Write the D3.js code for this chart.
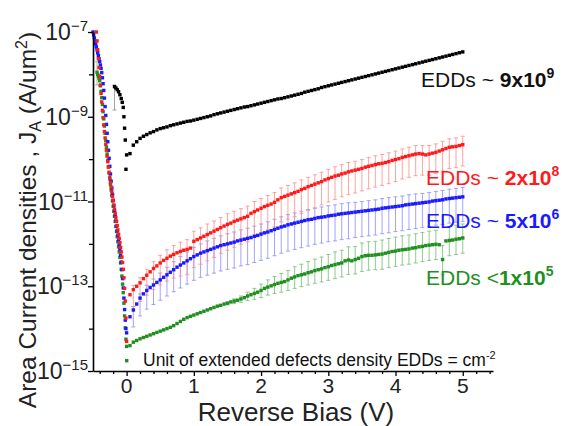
<!DOCTYPE html>
<html><head><meta charset="utf-8">
<script src="https://cdn.jsdelivr.net/npm/d3@7"></script>
<style>
body{margin:0;background:#fff}
svg{display:block}
text{font-family:Arial,"Liberation Sans",sans-serif}
</style>
</head><body>
<svg id="c" width="566" height="426"></svg>
<script>
// ---------------- DATA (log10 of J_A in A/um^2) ----------------
const xTicksMajor = [0, 1, 2, 3, 4, 5];
const xTicksMinor = [-0.4, -0.2, 0.2, 0.4, 0.6, 0.8, 1.2, 1.4, 1.6, 1.8, 2.2, 2.4, 2.6, 2.8, 3.2, 3.4, 3.6, 3.8, 4.2, 4.4, 4.6, 4.8, 5.2, 5.4];
const yTickExpLabeled = [-7, -9, -11, -13, -15];
const yTickExpMinor = [-8, -10, -12, -14];

// reverse bias, positive sweep (V)
const biasPos = [0.05,0.1,0.15,0.2,0.25,0.3,0.35,0.4,0.45,0.5,
 0.55,0.6,0.65,0.7,0.75,0.8,0.85,0.9,0.95,1.0,
 1.05,1.1,1.15,1.2,1.25,1.3,1.35,1.4,1.45,1.5,
 1.55,1.6,1.65,1.7,1.75,1.8,1.85,1.9,1.95,2.0,
 2.05,2.1,2.15,2.2,2.25,2.3,2.35,2.4,2.45,2.5,
 2.55,2.6,2.65,2.7,2.75,2.8,2.85,2.9,2.95,3.0,
 3.05,3.1,3.15,3.2,3.25,3.3,3.35,3.4,3.45,3.5,
 3.55,3.6,3.65,3.7,3.75,3.8,3.85,3.9,3.95,4.0,
 4.05,4.1,4.15,4.2,4.25,4.3,4.35,4.4,4.45,4.5,
 4.55,4.6,4.65,4.7,4.75,4.8,4.85,4.9,4.95,5.0];

// negative (forward) side of the sweep (V)
const biasNeg = [-0.5,-0.49,-0.48,-0.47,-0.46,-0.45,-0.44,-0.43,-0.42,-0.41,
 -0.4,-0.39,-0.38,-0.37,-0.36,-0.35,-0.34,-0.33,-0.32,-0.31,
 -0.3,-0.29,-0.28,-0.27,-0.26,-0.25,-0.24,-0.23,-0.22,-0.21,
 -0.2,-0.19,-0.18,-0.17,-0.16,-0.15,-0.14,-0.13,-0.12,-0.11,
 -0.1,-0.09,-0.08,-0.07,-0.06,-0.05,-0.04,-0.03,-0.02,-0.01,0.0];

// EDDs ~ 9x10^9 (black)
const blackPos = [-9.87,-9.67,-9.59,-9.51,-9.46,-9.42,-9.38,-9.35,-9.31,-9.28,
 -9.26,-9.24,-9.21,-9.19,-9.17,-9.15,-9.13,-9.11,-9.10,-9.08,
 -9.06,-9.04,-9.02,-9.00,-8.98,-8.95,-8.93,-8.91,-8.89,-8.87,
 -8.85,-8.83,-8.81,-8.79,-8.77,-8.76,-8.74,-8.72,-8.70,-8.68,
 -8.66,-8.64,-8.62,-8.60,-8.58,-8.57,-8.55,-8.53,-8.51,-8.49,
 -8.47,-8.45,-8.42,-8.40,-8.38,-8.36,-8.34,-8.31,-8.29,-8.27,
 -8.25,-8.23,-8.21,-8.19,-8.17,-8.15,-8.13,-8.11,-8.09,-8.07,
 -8.05,-8.03,-8.01,-7.99,-7.97,-7.95,-7.93,-7.91,-7.89,-7.87,
 -7.85,-7.83,-7.81,-7.79,-7.77,-7.75,-7.73,-7.71,-7.69,-7.67,
 -7.65,-7.63,-7.61,-7.59,-7.57,-7.55,-7.53,-7.51,-7.49,-7.47];
const blackNegBias = [-0.18,-0.16,-0.14,-0.12,-0.10,-0.08,-0.065,-0.05,-0.04,-0.03,-0.02,-0.01,0.0];
const blackNeg = [-8.29,-8.32,-8.36,-8.41,-8.48,-8.57,-8.66,-8.78,-9.0,-9.27,-9.55,-10.24,-9.9];

// EDDs ~ 2x10^8 (red)
const redPos = [-13.20,-13.08,-13.00,-12.92,-12.82,-12.74,-12.66,-12.58,-12.52,-12.45,
 -12.39,-12.34,-12.29,-12.25,-12.21,-12.18,-12.15,-12.13,-12.10,-11.94,
 -11.90,-11.86,-11.82,-11.78,-11.74,-11.70,-11.66,-11.62,-11.58,-11.54,
 -11.51,-11.47,-11.44,-11.41,-11.38,-11.35,-11.28,-11.24,-11.20,-11.16,
 -11.12,-11.09,-11.06,-11.02,-10.96,-10.91,-10.88,-10.85,-10.82,-10.79,
 -10.76,-10.72,-10.69,-10.65,-10.62,-10.59,-10.56,-10.53,-10.49,-10.46,
 -10.43,-10.40,-10.38,-10.35,-10.33,-10.30,-10.28,-10.26,-10.24,-10.22,
 -10.19,-10.17,-10.15,-10.13,-10.11,-10.10,-10.08,-10.06,-10.03,-10.01,
 -9.99,-9.96,-9.94,-9.92,-9.90,-9.88,-9.87,-9.88,-9.90,-9.88,
 -9.86,-9.84,-9.81,-9.78,-9.75,-9.72,-9.71,-9.70,-9.68,-9.66];
const redNeg = [null,null,null,null,null,-7.00,-7.21,-7.42,-7.63,-7.84,
 -8.05,-8.25,-8.45,-8.65,-8.85,-9.02,-9.19,-9.35,-9.50,-9.65,
 -9.79,-9.93,-10.06,-10.19,-10.31,-10.43,-10.55,-10.66,-10.77,-10.88,
 -10.98,-11.08,-11.18,-11.28,-11.38,-11.47,-11.57,-11.67,-11.77,-11.87,
 -11.97,-12.08,-12.19,-12.31,-12.44,-12.60,-12.80,-13.05,-13.35,-13.75,-14.30];

// EDDs ~ 5x10^6 (blue)
const bluePos = [-13.72,-13.56,-13.42,-13.28,-13.18,-13.10,-13.03,-12.97,-12.91,-12.85,
 -12.79,-12.73,-12.67,-12.61,-12.55,-12.50,-12.45,-12.40,-12.35,-12.30,
 -12.26,-12.22,-12.19,-12.16,-12.13,-12.10,-12.07,-12.04,-12.02,-12.00,
 -11.98,-11.96,-11.93,-11.91,-11.89,-11.87,-11.85,-11.82,-11.80,-11.77,
 -11.74,-11.72,-11.69,-11.66,-11.63,-11.60,-11.58,-11.55,-11.53,-11.51,
 -11.49,-11.47,-11.45,-11.43,-11.42,-11.40,-11.38,-11.37,-11.36,-11.34,
 -11.33,-11.32,-11.30,-11.29,-11.28,-11.27,-11.26,-11.25,-11.24,-11.23,
 -11.22,-11.21,-11.20,-11.19,-11.18,-11.16,-11.15,-11.14,-11.13,-11.12,
 -11.11,-11.10,-11.08,-11.07,-11.06,-11.05,-11.04,-11.03,-11.02,-11.01,
 -10.99,-10.98,-10.97,-10.96,-10.94,-10.93,-10.92,-10.91,-10.90,-10.89];
const blueNeg = [-7.00,-7.07,-7.14,-7.21,-7.28,-7.35,-7.42,-7.49,-7.56,-7.63,
 -7.70,-7.78,-7.86,-7.96,-8.08,-8.22,-8.38,-8.56,-8.76,-8.97,
 -9.18,-9.39,-9.59,-9.79,-9.98,-10.17,-10.35,-10.52,-10.68,-10.83,
 -10.97,-11.10,-11.22,-11.34,-11.46,-11.58,-11.69,-11.80,-11.91,-12.02,
 -12.13,-12.27,-12.43,-12.61,-12.82,-13.04,-13.28,-13.55,-13.80,-14.00,-14.10];

// EDDs < 1x10^5 (green)
const greenPos = [-14.40,-14.32,-14.28,-14.24,-14.21,-14.18,-14.15,-14.12,-14.09,-14.06,
 -14.03,-14.00,-13.97,-13.93,-13.88,-13.83,-13.78,-13.74,-13.71,-13.68,
 -13.65,-13.62,-13.59,-13.56,-13.53,-13.50,-13.47,-13.45,-13.42,-13.40,
 -13.37,-13.35,-13.33,-13.30,-13.27,-13.23,-13.20,-13.17,-13.14,-13.10,
 -13.05,-13.02,-12.99,-12.96,-12.93,-12.91,-12.89,-12.85,-12.81,-12.78,
 -12.75,-12.73,-12.71,-12.68,-12.66,-12.63,-12.61,-12.59,-12.56,-12.54,
 -12.51,-12.49,-12.47,-12.45,-12.40,-12.38,-12.40,-12.37,-12.34,-12.30,
 -12.28,-12.27,-12.27,-12.26,-12.25,-12.24,-12.22,-12.20,-12.18,-12.17,
 -12.15,-12.14,-12.13,-12.12,-12.10,-12.09,-12.07,-12.06,-12.04,-12.03,
 -12.02,-12.01,-12.02,-12.37,-11.93,-11.92,-11.91,-11.89,-11.88,-11.86];
const greenNeg = [null,null,null,null,null,null,-7.95,-8.00,-8.04,-8.09,
 -8.15,-8.27,-8.40,-8.55,-8.71,-8.88,-9.05,-9.22,-9.39,-9.56,
 -9.72,-9.88,-10.03,-10.18,-10.33,-10.47,-10.60,-10.73,-10.86,-10.99,
 -11.11,-11.23,-11.35,-11.47,-11.59,-11.71,-11.83,-11.95,-12.07,-12.19,
 -12.32,-12.45,-12.60,-12.76,-12.95,-13.15,-13.40,-13.70,-13.98,-14.25,-14.42];

// error bars (in decades above / below the point), at every 0.1 V
const errBias = [0.1,0.2,0.3,0.4,0.5,0.6,0.7,0.8,0.9,
 1.0,1.1,1.2,1.3,1.4,1.5,1.6,1.7,1.8,1.9,
 2.0,2.1,2.2,2.3,2.4,2.5,2.6,2.7,2.8,2.9,
 3.0,3.1,3.2,3.3,3.4,3.5,3.6,3.7,3.8,3.9,
 4.0,4.1,4.2,4.3,4.4,4.5,4.6,4.7,4.8,4.9,5.0];
const redErrUp = [0.10,0.12,0.14,0.16,0.18,0.20,0.21,0.22,0.23,
 0.24,0.24,0.25,0.24,0.24,0.25,0.24,0.24,0.24,0.24,
 0.23,0.23,0.23,0.23,0.23,0.23,0.23,0.22,0.22,0.22,
 0.22,0.22,0.22,0.22,0.21,0.21,0.21,0.21,0.21,0.21,
 0.20,0.20,0.20,0.20,0.20,0.20,0.20,0.20,0.20,0.20,0.20];
const redErrDn = [0.40,0.44,0.47,0.50,0.52,0.54,0.56,0.58,0.60,
 0.62,0.62,0.62,0.62,0.61,0.61,0.61,0.60,0.60,0.60,
 0.58,0.58,0.58,0.57,0.57,0.57,0.56,0.56,0.56,0.55,
 0.55,0.55,0.54,0.54,0.54,0.53,0.53,0.53,0.52,0.52,
 0.52,0.51,0.51,0.51,0.50,0.50,0.50,0.50,0.50,0.50,0.50];
const blueErrUp = [0.08,0.10,0.12,0.14,0.16,0.18,0.19,0.20,0.21,
 0.22,0.22,0.23,0.23,0.23,0.24,0.24,0.24,0.24,0.24,
 0.24,0.24,0.24,0.24,0.24,0.24,0.24,0.24,0.24,0.24,
 0.24,0.24,0.24,0.24,0.23,0.23,0.23,0.23,0.23,0.23,
 0.23,0.23,0.23,0.23,0.22,0.22,0.22,0.22,0.22,0.22,0.22];
const blueErrDn = [0.40,0.42,0.44,0.46,0.48,0.50,0.52,0.54,0.55,
 0.56,0.57,0.58,0.59,0.60,0.60,0.61,0.61,0.62,0.62,
 0.62,0.62,0.62,0.62,0.62,0.62,0.62,0.62,0.61,0.61,
 0.61,0.61,0.61,0.61,0.60,0.60,0.60,0.60,0.60,0.60,
 0.59,0.59,0.59,0.59,0.58,0.58,0.58,0.58,0.58,0.58,0.58];
const greenErrUp = [0,0,0,0,0,0,0,0,0,
 0,0,0,0,0,0.03,0.05,0.07,0.09,0.12,
 0.15,0.17,0.19,0.21,0.22,0.24,0.25,0.26,0.27,0.28,
 0.29,0.30,0.30,0.31,0.31,0.32,0.32,0.32,0.33,0.33,
 0.33,0.33,0.33,0.33,0.33,0.33,0.33,0.33,0.33,0.33,0.33];
const greenErrDn = [0,0,0,0,0,0,0,0,0,
 0,0,0,0,0,0.04,0.06,0.08,0.11,0.14,
 0.17,0.19,0.21,0.23,0.25,0.27,0.28,0.29,0.30,0.31,
 0.32,0.33,0.33,0.34,0.34,0.35,0.35,0.35,0.36,0.36,
 0.36,0.36,0.36,0.36,0.36,0.36,0.36,0.36,0.36,0.36,0.36];
// isolated error bars on the negative side
const extraBarBias = [-0.18, -0.44];
const extraBarJ = [-8.29, -7.95];
const extraBarUp = [0.04, 0.25];
const extraBarDn = [0.55, 0.30];
const extraBarColor = ["#8a8a8a", "#7cb87c"];

// ---------------- CHART ----------------
const svg = d3.select("#c");
const x = d3.scaleLinear().domain([-0.5, 5.45]).range([93, 493]);
const y = d3.scaleLog().domain([1e-15, 1e-7]).range([371, 32]);
const J = v => Math.pow(10, v);

const series = [
  {name:"green", pos:greenPos, neg:greenNeg, up:greenErrUp, dn:greenErrDn, col:"#1f8f1f", bar:"#72bd72"},
  {name:"blue",  pos:bluePos,  neg:blueNeg,  up:blueErrUp,  dn:blueErrDn,  col:"#1a1aff", bar:"#8a8aff"},
  {name:"red",   pos:redPos,   neg:redNeg,   up:redErrUp,   dn:redErrDn,   col:"#ff1a1a", bar:"#ff8a8a"}
];

// error bars
const gBars = svg.append("g");
function drawBar(g, bx, v, up, dn, col) {
  if (!(up > 0 || dn > 0)) return;
  const X = x(bx), y1 = y(J(v + up)), y2 = y(J(v - dn));
  g.append("line").attr("x1", X).attr("x2", X).attr("y1", y1).attr("y2", y2)
    .attr("stroke", col).attr("stroke-width", 0.8);
  [y1, y2].forEach(yy => g.append("line").attr("x1", X - 2).attr("x2", X + 2)
    .attr("y1", yy).attr("y2", yy).attr("stroke", col).attr("stroke-width", 0.8));
}
series.forEach(s => {
  errBias.forEach((b, i) => {
    const k = biasPos.findIndex(p => Math.abs(p - b) < 1e-6);
    drawBar(gBars, b, s.pos[k], s.up[i], s.dn[i], s.bar);
  });
});
extraBarBias.forEach((b, i) => drawBar(gBars, b, extraBarJ[i], extraBarUp[i], extraBarDn[i], extraBarColor[i]));

// markers
const ms = 3.4;
function drawPts(xs, vs, col) {
  const d = xs.map((b, i) => [b, vs[i]]).filter(p => p[1] !== null && p[1] !== undefined);
  svg.append("g").selectAll("rect").data(d).join("rect")
    .attr("x", p => x(p[0]) - ms / 2).attr("y", p => y(J(p[1])) - ms / 2)
    .attr("width", ms).attr("height", ms).attr("fill", col);
}
series.forEach(s => { drawPts(biasNeg, s.neg, s.col); drawPts(biasPos, s.pos, s.col); });
drawPts(blackNegBias, blackNeg, "#000");
drawPts(biasPos, blackPos, "#000");

// axes
const xAxisG = svg.append("g").attr("transform", "translate(0,371)");
xAxisG.call(d3.axisBottom(x).tickValues(xTicksMajor).tickSize(5).tickSizeOuter(0).tickFormat(""));
const xMin = svg.append("g").attr("transform", "translate(0,371)");
xMin.call(d3.axisBottom(x).tickValues(xTicksMinor).tickSize(3).tickSizeOuter(0).tickFormat(""));
xMin.select(".domain").remove();
const yAxisG = svg.append("g").attr("transform", "translate(93,0)");
yAxisG.call(d3.axisLeft(y).tickValues(yTickExpLabeled.map(J)).tickSize(5).tickSizeOuter(0).tickFormat(""));
const yMin = svg.append("g").attr("transform", "translate(93,0)");
yMin.call(d3.axisLeft(y).tickValues(yTickExpMinor.map(J)).tickSize(4).tickSizeOuter(0).tickFormat(""));
yMin.select(".domain").remove();
svg.selectAll(".domain").attr("stroke-width", 1.6);
svg.selectAll(".tick line").attr("stroke-width", 1.3);

// tick labels
xTicksMajor.forEach(t => {
  svg.append("text").attr("x", x(t)).attr("y", 392.5).attr("text-anchor", "middle")
    .attr("font-size", 21).attr("fill", "#222").text(t);
});
yTickExpLabeled.forEach(e => {
  const t = svg.append("text").attr("x", 88).attr("y", y(J(e)) + 8).attr("text-anchor", "end")
    .attr("font-size", 23).attr("fill", "#222");
  t.append("tspan").text("10");
  t.append("tspan").attr("dy", -9).attr("font-size", 15).text("\u2212" + (-e));
});

// axis titles
svg.append("text").attr("x", 296).attr("y", 420.5).attr("text-anchor", "middle")
  .attr("font-size", 26).attr("fill", "#222").text("Reverse Bias (V)");
const yt = svg.append("text").attr("transform", "translate(36,220) rotate(-90)")
  .attr("text-anchor", "middle").attr("font-size", 24.5).attr("fill", "#222");
yt.append("tspan").text("Area Current densities , J");
yt.append("tspan").attr("dy", 5).attr("font-size", 16).text("A");
yt.append("tspan").attr("dy", -5).text(" (A/um");
yt.append("tspan").attr("dy", -9).attr("font-size", 16).text("2");
yt.append("tspan").attr("dy", 9).text(")");

// series labels
function label(xp, yp, col, pre, bold, sup) {
  const t = svg.append("text").attr("x", xp).attr("y", yp).attr("font-size", 21).attr("fill", col);
  t.append("tspan").text(pre);
  t.append("tspan").attr("font-weight", "bold").text(bold);
  t.append("tspan").attr("font-weight", "bold").attr("font-size", 14).attr("dy", -9).text(sup);
}
label(421, 87, "#111", "EDDs ~ ", "9x10", "9");
label(426, 185, "#ff1a1a", "EDDs ~ ", "2x10", "8");
label(426, 228, "#1a1aff", "EDDs ~ ", "5x10", "6");
label(426, 285, "#1f8f1f", "EDDs <", "1x10", "5");

// unit note
svg.append("rect").attr("x", 125).attr("y", 359).attr("width", 3.4).attr("height", 3.4).attr("fill", "#1f8f1f");
const nt = svg.append("text").attr("x", 143).attr("y", 366).attr("font-size", 17.5).attr("fill", "#111");
nt.append("tspan").text("Unit of extended defects density EDDs = cm");
nt.append("tspan").attr("dy", -7).attr("font-size", 11).text("-2");
</script>
</body></html>
